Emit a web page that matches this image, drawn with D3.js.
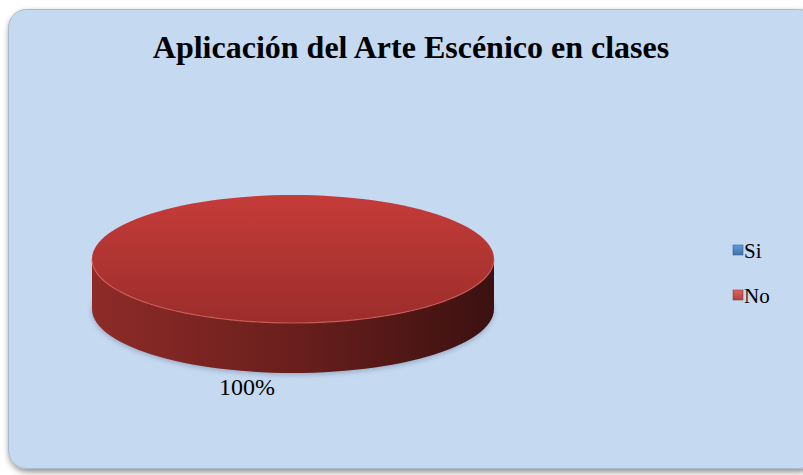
<!DOCTYPE html>
<meta charset="utf-8">
<style>
    body { margin: 0; background: #fff; }
    .container { width: 803px; height: 475px; }
    svg text { font-family: 'Liberation Serif', 'Times New Roman', Times, serif; }
</style>
<body>
<div class="container"></div>
<script src="https://cdn.jsdelivr.net/npm/d3@7"></script>
<script>

// chart data
const title = 'Aplicación del Arte Escénico en clases';
const categories = ['Si', 'No'];
const values = [0, 100];
const colors = ['#4f81bd', '#c0504d'];

const width = 803;
const height = 475;

const svg = d3.select('.container')
    .append('svg')
    .attr('width', width)
    .attr('height', height);

const defs = svg.append('defs');

// frame shadow
const fs = defs.append('filter').attr('id', 'frameShadow')
    .attr('x', '-5%').attr('y', '-5%').attr('width', '110%').attr('height', '115%');
fs.append('feGaussianBlur').attr('in', 'SourceAlpha').attr('stdDeviation', 3);
fs.append('feOffset').attr('dx', 1).attr('dy', 3).attr('result', 'b');
fs.append('feComponentTransfer').append('feFuncA').attr('type', 'linear').attr('slope', 0.45);
const fm = fs.append('feMerge');
fm.append('feMergeNode');
fm.append('feMergeNode').attr('in', 'SourceGraphic');

svg.append('rect')
    .attr('x', 8.5).attr('y', 9.5)
    .attr('width', 808).attr('height', 459)
    .attr('rx', 18)
    .attr('fill', '#c5d9f1')
    .attr('stroke', '#a9b8cc')
    .attr('filter', 'url(#frameShadow)');

svg.append('text')
    .attr('x', 411).attr('y', 58)
    .attr('text-anchor', 'middle')
    .style('font-weight', 'bold')
    .style('font-size', '32px')
    .text(title);

// 3D pie geometry
const cx = 293, cy = 259, rx = 201, ry = 64, depth = 50;

const pie = d3.pie().sort(null).value(d => d)(values);

const pt = (a, dy = 0) => [cx + rx * Math.sin(a), cy - ry * Math.cos(a) + dy];

const ellipseArc = (a0, a1, dy = 0, steps = 120) => {
    const n = Math.max(2, Math.ceil(steps * (a1 - a0) / (2 * Math.PI)));
    return d3.range(n + 1).map(i => pt(a0 + (a1 - a0) * i / n, dy));
};

// gradients
const sideGrad = defs.append('linearGradient').attr('id', 'side1')
    .attr('gradientUnits', 'userSpaceOnUse')
    .attr('x1', cx - rx).attr('x2', cx + rx).attr('y1', 0).attr('y2', 0);
sideGrad.append('stop').attr('offset', 0).attr('stop-color', '#8e2b28');
sideGrad.append('stop').attr('offset', 0.5).attr('stop-color', '#6a1f1d');
sideGrad.append('stop').attr('offset', 1).attr('stop-color', '#3b1110');

const topGrad = defs.append('linearGradient').attr('id', 'top1')
    .attr('gradientUnits', 'userSpaceOnUse')
    .attr('x1', 0).attr('x2', 0).attr('y1', cy - ry).attr('y2', cy + ry);
topGrad.append('stop').attr('offset', 0).attr('stop-color', '#c53c39');
topGrad.append('stop').attr('offset', 1).attr('stop-color', '#9b2d2b');

const ps = defs.append('filter').attr('id', 'pieShadow')
    .attr('x', '-10%').attr('y', '-20%').attr('width', '120%').attr('height', '140%');
ps.append('feGaussianBlur').attr('stdDeviation', 2.5);

// shadow under the pie
svg.append('path')
    .attr('d', d3.line()(ellipseArc(0, 2 * Math.PI, depth + 2)) + 'Z')
    .attr('fill', '#7a8ea8')
    .attr('opacity', 0.6)
    .attr('filter', 'url(#pieShadow)');

const g = svg.append('g');

pie.forEach((s, i) => {
    if (s.endAngle - s.startAngle <= 0) return;
    // outer side, front half only
    const a0 = Math.max(s.startAngle, Math.PI / 2);
    const a1 = Math.min(s.endAngle, 3 * Math.PI / 2);
    if (a1 > a0) {
        const topEdge = ellipseArc(a0, a1);
        const botEdge = ellipseArc(a0, a1, depth).reverse();
        g.append('path')
            .attr('d', d3.line()(topEdge.concat(botEdge)) + 'Z')
            .attr('fill', i === 1 ? 'url(#side1)' : d3.color(colors[i]).darker(1));
    }
    // top face
    const full = s.endAngle - s.startAngle >= 2 * Math.PI - 1e-6;
    const topPts = full ? ellipseArc(0, 2 * Math.PI) : [[cx, cy]].concat(ellipseArc(s.startAngle, s.endAngle));
    g.append('path')
        .attr('d', d3.line()(topPts) + 'Z')
        .attr('fill', i === 1 ? 'url(#top1)' : colors[i]);
    // rim highlight
    if (a1 > a0) {
        g.append('path')
            .attr('d', d3.line()(ellipseArc(a0, a1)))
            .attr('fill', 'none')
            .attr('stroke', '#d8605c')
            .attr('stroke-width', 1.2)
            .attr('opacity', 0.8);
    }

    // data label
    const mid = (s.startAngle + s.endAngle) / 2;
    const lp = pt(mid, depth);
    svg.append('text')
        .attr('x', lp[0] - 46).attr('y', lp[1] + 22)
        .attr('text-anchor', 'middle')
        .style('font-size', '24px')
        .text(d3.format('.0%')(s.value / d3.sum(values)));
});

// legend
const legend = svg.append('g').attr('transform', 'translate(733,245)');
categories.forEach((c, i) => {
    const row = legend.append('g').attr('transform', `translate(0,${i * 45})`);
    const lg = defs.append('linearGradient').attr('id', 'lg' + i)
        .attr('x1', 0).attr('x2', 0).attr('y1', 0).attr('y2', 1);
    lg.append('stop').attr('offset', 0).attr('stop-color', d3.color(colors[i]).brighter(0.5));
    lg.append('stop').attr('offset', 1).attr('stop-color', d3.color(colors[i]).darker(0.4));
    row.append('rect')
        .attr('width', 10).attr('height', 10)
        .attr('fill', `url(#lg${i})`)
        .attr('stroke', d3.color(colors[i]).darker(0.8))
        .attr('stroke-width', 0.6);
    row.append('text')
        .attr('x', 11).attr('y', 13)
        .style('font-size', '21px')
        .text(c);
});

</script>
</body>
